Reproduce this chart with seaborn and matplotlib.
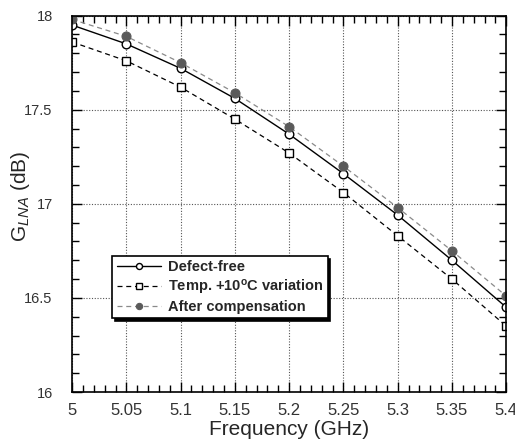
import matplotlib
matplotlib.use('Agg')
import matplotlib.pyplot as plt
import seaborn as sns
import numpy as np
from matplotlib.ticker import MultipleLocator, FormatStrFormatter

# datos
freq = [5.0, 5.05, 5.1, 5.15, 5.2, 5.25, 5.3, 5.35, 5.4]
gain_defect_free = [17.95, 17.85, 17.72, 17.56, 17.37, 17.16, 16.94, 16.70, 16.45]
gain_temp = [17.86, 17.76, 17.62, 17.45, 17.27, 17.06, 16.83, 16.60, 16.35]
gain_comp = [17.98, 17.89, 17.75, 17.59, 17.41, 17.20, 16.98, 16.75, 16.51]

labels = ['Defect-free', r'Temp. +10$^{\mathbf{o}}$C variation', 'After compensation']

sns.set_style("ticks")
plt.rcParams['font.family'] = ['Liberation Sans', 'DejaVu Sans']
plt.rcParams['mathtext.fontset'] = 'custom'
plt.rcParams['mathtext.rm'] = 'Liberation Sans'
plt.rcParams['mathtext.it'] = 'Liberation Sans:italic'
plt.rcParams['mathtext.bf'] = 'Liberation Sans:bold'

fig = plt.figure(figsize=(5.15, 4.48), dpi=100)
ax = fig.add_axes([0.140, 0.125, 0.843, 0.840])

sns.lineplot(x=freq, y=gain_defect_free, ax=ax, color='black', linewidth=1.0,
             marker='o', markersize=6.2, markerfacecolor='white', markeredgecolor='black',
             markeredgewidth=1.0, label=labels[0])
sns.lineplot(x=freq, y=gain_temp, ax=ax, color='black', linewidth=0.9,
             linestyle=(0, (4, 3)), marker='s', markersize=5.8, markerfacecolor='white',
             markeredgecolor='black', markeredgewidth=1.0, label=labels[1])
sns.lineplot(x=freq, y=gain_comp, ax=ax, color='#8a8a8a', linewidth=0.9,
             linestyle=(0, (4, 3)), marker='o', markersize=6.5, markerfacecolor='#5a5a5a',
             markeredgecolor='#5a5a5a', label=labels[2])

ax.set_xlim(5.0, 5.4)
ax.set_ylim(16, 18)
ax.xaxis.set_major_locator(MultipleLocator(0.05))
ax.xaxis.set_minor_locator(MultipleLocator(0.01))
ax.yaxis.set_major_locator(MultipleLocator(0.5))
ax.yaxis.set_minor_locator(MultipleLocator(0.1))
ax.xaxis.set_major_formatter(FormatStrFormatter('%g'))
ax.yaxis.set_major_formatter(FormatStrFormatter('%g'))

ax.tick_params(which='both', direction='in', top=True, right=True, color='black', width=1.0)
ax.tick_params(which='major', length=7, labelcolor='#333333')
ax.tick_params(axis='x', which='major', labelsize=12, pad=8)
ax.tick_params(axis='y', which='major', labelsize=10.5, pad=14)
ax.tick_params(which='minor', length=5)
for s in ax.spines.values():
    s.set_linewidth(1.2)
    s.set_color('black')

ax.grid(True, which='major', linestyle=(0, (1, 1.5)), color='#555555', linewidth=0.8)

ax.set_xlabel('Frequency (GHz)', fontsize=15, labelpad=1)
ax.set_ylabel(r'G$_{\mathit{LNA}}$ (dB)', fontsize=15)
ax.yaxis.set_label_coords(-0.092, 0.52)

leg = ax.legend(loc='lower left', bbox_to_anchor=(0.076, 0.177), fancybox=False,
                shadow={'color': 'black', 'alpha': 1.0}, edgecolor='black',
                framealpha=1.0, handlelength=3.0, markerscale=0.7,
                prop={'weight': 'bold', 'size': 10.5}, borderpad=0.3,
                labelspacing=0.22, handletextpad=0.5)
leg.get_frame().set_linewidth(1.2)

plt.savefig('out.png', dpi=100)
plt.close()
